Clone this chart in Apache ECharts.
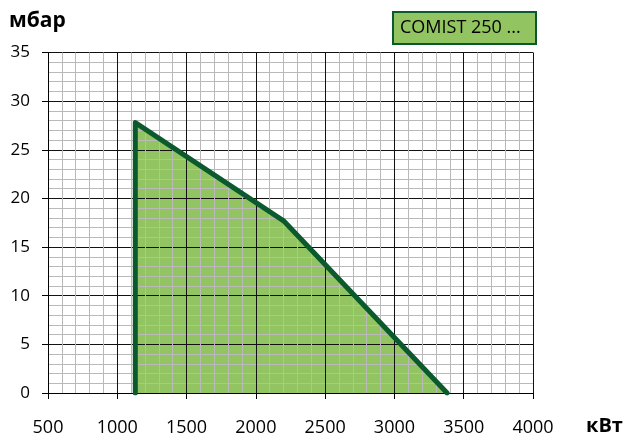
<!DOCTYPE html>
<html>
<head>
<meta charset="utf-8">
<script src="https://cdn.jsdelivr.net/npm/echarts@6/dist/echarts.min.js"></script>
<style>
html,body{margin:0;padding:0;background:#fff;}
#chart{width:626px;height:437px;}
</style>
</head>
<body>
<div id="chart"></div>
<script>
// Data
const powerKW = [1130, 1130, 2200, 3380];        // кВт
const pressureMbar = [0, 27.8, 17.7, 0];         // мбар
const legendLabel = 'COMIST 250 ...';
const yAxisTitle = 'мбар';
const xAxisTitle = 'кВт';
const xRange = [500, 4000, 500];
const yRange = [0, 35, 5];

const FILL = '#92c462';
const STROKE = '#0b5a2d';
const FONT = '"Open Sans", "DejaVu Sans", sans-serif';

const points = powerKW.map((x, i) => [x, pressureMbar[i]]);

const chart = echarts.init(document.getElementById('chart'), null, {renderer: 'canvas'});

const axisCommon = {
  type: 'value',
  z: 3,
  axisLine: {show: true, onZero: false, lineStyle: {color: '#000', width: 1}},
  axisTick: {show: true, inside: false, length: 6, lineStyle: {color: '#000', width: 1}},
  splitLine: {show: true, lineStyle: {color: '#111', width: 1}},
  minorTick: {show: false, splitNumber: 5},
  minorSplitLine: {show: true, lineStyle: {color: '#b9b9b9', width: 1}},
};

chart.setOption({
  animation: false,
  backgroundColor: '#fff',
  textStyle: {fontFamily: FONT},
  grid: {left: 48, right: 93, top: 52.5, bottom: 40, containLabel: false},
  xAxis: Object.assign({}, axisCommon, {
    min: xRange[0], max: xRange[1], interval: xRange[2],
    axisLabel: {color: '#000', fontSize: 18, fontFamily: FONT, margin: 26, formatter: v => String(v)}
  }),
  yAxis: Object.assign({}, axisCommon, {
    min: yRange[0], max: yRange[1], interval: yRange[2],
    axisLabel: {color: '#000', fontSize: 17, fontFamily: FONT, margin: 18, formatter: v => String(v)}
  }),
  series: [
    {
      name: legendLabel + ' fill',
      type: 'line',
      z: 1,
      data: points,
      symbol: 'none',
      lineStyle: {width: 0, opacity: 0},
      areaStyle: {color: FILL, opacity: 1},
      silent: true
    },
    {
      name: legendLabel,
      type: 'line',
      z: 5,
      data: points,
      symbol: 'none',
      lineStyle: {color: STROKE, width: 5, cap: 'round', join: 'round'}
    }
  ],
  graphic: [
    {
      type: 'text', left: 9, top: 11,
      style: {text: yAxisTitle, fill: '#000', font: 'bold 21px ' + FONT}
    },
    {
      type: 'text', left: 586, top: 416,
      style: {text: xAxisTitle, fill: '#000', font: 'bold 20px ' + FONT}
    },
    {
      type: 'rect',
      shape: {x: 393, y: 12, width: 143, height: 32},
      style: {fill: FILL, stroke: STROKE, lineWidth: 2}
    },
    {
      type: 'text', x: 400, y: 28,
      style: {text: legendLabel, fill: '#000', font: '18px ' + FONT, verticalAlign: 'middle', align: 'left'}
    }
  ]
});
</script>
</body>
</html>
